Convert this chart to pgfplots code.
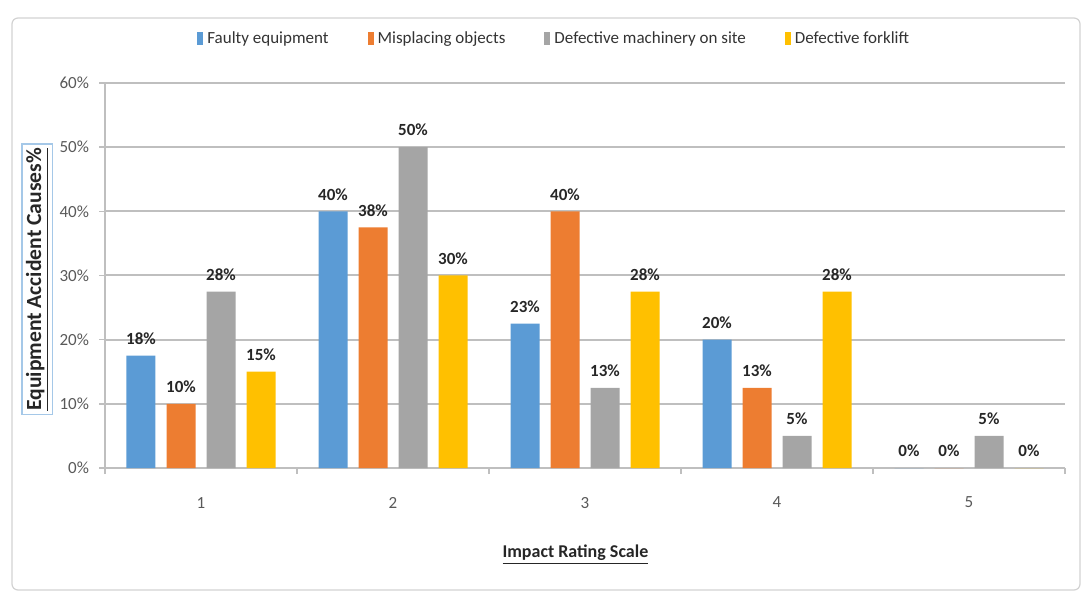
\documentclass[border=0pt]{standalone}
\usepackage{fontspec}
\setmainfont{Carlito}
\usepackage{pgfplots}
\pgfplotsset{compat=1.18}
\usepackage{pgfplotstable}
\definecolor{cblue}{HTML}{5B9BD5}
\definecolor{corange}{HTML}{ED7D31}
\definecolor{cgray}{HTML}{A5A5A5}
\definecolor{cyellow}{HTML}{FFC000}
\definecolor{gridc}{HTML}{BFBFBF}
\definecolor{labc}{HTML}{595959}

\pgfplotstableread{
x y lab
1 17.5 18
2 40 40
3 22.5 23
4 20 20
5 0 0
}\faulty
\pgfplotstableread{
x y lab
1 10 10
2 37.5 38
3 40 40
4 12.5 13
5 0 0
}\misplacing
\pgfplotstableread{
x y lab
1 27.5 28
2 50 50
3 12.5 13
4 5 5
5 5 5
}\machinery
\pgfplotstableread{
x y lab
1 15 15
2 30 30
3 27.5 28
4 27.5 28
5 0 0
}\forklift

\begin{document}
\begin{tikzpicture}
\path (0,0) rectangle (543.5pt,297.5pt);
\draw[gray!35, rounded corners=3pt, line width=0.6pt] (6pt,2.5pt) rectangle (540pt,288.5pt);
\begin{axis}[
  at={(52.5pt,63.5pt)}, anchor=south west,
  scale only axis, width=480pt, height=192.5pt,
  ybar=5.5pt, bar width=14.5pt,
  xmin=0.5, xmax=5.5, ymin=0, ymax=60,
  xtick={1,2,3,4,5},
  major x tick style={draw=none},
  minor xtick={0.5,1.5,2.5,3.5,4.5,5.5},
  minor x tick style={draw=gridc, line width=0.8pt},
  tick align=outside,
  minor tick length=3pt,
  major tick length=3pt,
  ytick={0,10,20,30,40,50,60},
  y tick style={draw=gridc, line width=0.8pt},
  ymajorgrids,
  grid style={draw=gridc, line width=1pt},
  axis x line*=bottom, axis y line*=left,
  axis line style={draw=gridc, line width=0.8pt, -},
  /pgf/number format/assume math mode=true,
  yticklabel={\pgfmathprintnumber{\tick}\%},
  ticklabel style={font=\fontsize{8.5}{10}\selectfont, text=labc},
  yticklabel style={xshift=-1.5pt},
  xticklabel style={yshift=-8pt},
  xlabel={\underline{\textbf{Impact Rating Scale}}},
  xlabel style={font=\fontsize{9}{11}\selectfont, text=black!85, at={(axis description cs:0.49,0)}, anchor=center, yshift=-43.5pt},
  ylabel={\underline{\textbf{Equipment Accident Causes\%}}},
  ylabel style={font=\fontsize{10.8}{12}\selectfont, text=black!85, draw=cblue!55, line width=0.6pt, inner sep=2pt, at={(axis description cs:-0.0705,0.49)}, anchor=center},
  point meta=explicit symbolic,
  nodes near coords={\pgfplotspointmeta\%},
  nodes near coords style={font=\bfseries\fontsize{8.5}{10}\selectfont, text=black!85, yshift=2pt},
  legend columns=4,
  legend style={at={(axis description cs:0.469,1)}, anchor=center, yshift=22pt, draw=none, fill=none,
    font=\fontsize{8.5}{10}\selectfont, text=black!80,
    /tikz/every even column/.append style={column sep=17.5pt}},
  legend image code/.code={\fill[#1] (0pt,-0.3em) rectangle (3pt,0.35em);},
]
\addplot[fill=cblue, draw=none] table[x=x, y=y, meta=lab] {\faulty};
\addplot[fill=corange, draw=none] table[x=x, y=y, meta=lab] {\misplacing};
\addplot[fill=cgray, draw=none] table[x=x, y=y, meta=lab] {\machinery};
\addplot[fill=cyellow, draw=none] table[x=x, y=y, meta=lab] {\forklift};
\legend{Faulty equipment, Misplacing objects, Defective machinery on site, Defective forklift}
\end{axis}
\end{tikzpicture}
\end{document}
